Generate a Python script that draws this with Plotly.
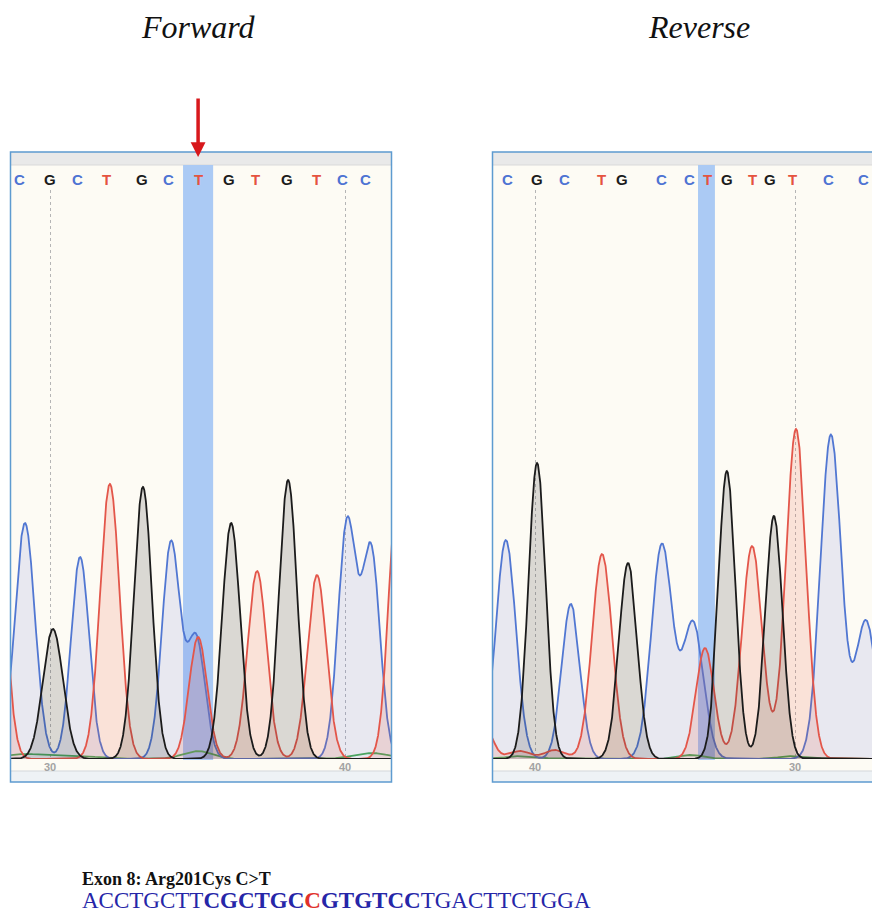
import numpy as np
import plotly.graph_objects as go

W, H = 872, 913

# ---------------- data ----------------
# base calls (position in base-number units)
fwd_bases = ["C", "G", "C", "T", "G", "C", "T", "G", "T", "G", "T", "C", "C"]
fwd_base_pos = [28.95, 30.0, 30.92, 31.90, 33.12, 34.0, 35.02, 36.07, 36.95, 38.03, 39.02, 39.93, 40.71]
rev_bases = ["C", "G", "C", "T", "G", "C", "C", "T", "G", "T", "G", "T", "C", "C"]
rev_base_pos = [41.04, 39.92, 38.85, 37.46, 36.65, 35.12, 34.04, 33.38, 32.62, 31.65, 30.96, 30.08, 28.73, 27.38]

# peaks: (centre position, height, width) per dye channel
fwd_blue = [(29.15, 236, 0.34), (31.02, 202, 0.305), (34.10, 216, 0.305), (34.95, 121, 0.305),
            (40.07, 236, 0.305), (40.88, 209, 0.305)]
fwd_red = [(28.24, 200, 0.305), (32.03, 275, 0.33), (35.02, 122, 0.305), (37.02, 188, 0.32),
           (39.05, 184, 0.32), (41.80, 280, 0.305)]
fwd_black = [(30.10, 130, 0.34), (33.15, 272, 0.305), (36.14, 236, 0.305), (38.07, 279, 0.305)]
fwd_green = [(29.2, 5, 0.8), (31.0, 3, 0.6), (35.0, 8, 0.5), (40.9, 6, 0.6)]

rev_blue = [(41.12, 219, 0.385), (38.62, 155, 0.35), (35.12, 214, 0.40), (33.92, 136, 0.40),
            (28.62, 324, 0.40), (27.27, 138, 0.40)]
rev_red = [(42.04, 40, 0.35), (40.58, 8, 0.4), (39.23, 9, 0.4), (37.42, 205, 0.385),
           (33.46, 111, 0.35), (31.65, 213, 0.385), (29.96, 330, 0.385)]
rev_black = [(39.92, 296, 0.33), (36.42, 196, 0.35), (32.62, 288, 0.33), (30.81, 243, 0.33)]
rev_green = [(40.5, 3, 0.6), (34.0, 4, 0.5), (30.0, 3, 0.6)]

tick_vals = [30, 40]
tick_text = ["30", "40"]
fwd_highlight = (34.51, 35.53)
rev_highlight = (33.08, 33.73)

title_left = "Forward"
title_right = "Reverse"
caption_1 = "Exon 8: Arg201Cys C&gt;T"
seq_pre, seq_bold1, seq_mut, seq_bold2, seq_post = "ACCTGCTT", "CGCTGC", "C", "GTGTCC", "TGACTTCTGGA"

# ---------------- styles ----------------
LINE = {"blue": "#5177d2", "red": "#e3564a", "black": "#1b1b1b", "green": "#49ad4f"}
FILL = {"blue": "rgba(90,110,215,0.13)", "red": "rgba(235,85,60,0.15)",
        "black": "rgba(50,50,50,0.17)", "green": "rgba(0,0,0,0)"}
LETTER = {"C": "#4e73d3", "G": "#1b1b1b", "T": "#e5533f"}
CREAM = "#fdfbf4"
HILITE = "#abcaf4"
FRAME = "#5e9bd0"


def px(xp):
    return xp / W


def py(yp):
    return 1 - yp / H


def curve(x, peaks):
    y = np.zeros_like(x)
    for c, h, w in peaks:
        y += h * np.exp(-0.5 * ((x - c) / w) ** 2)
    return y


# axis ranges (left: base 30 at px 50, 40 at px 345; right reversed: 40 at px 535, 30 at px 795)
left_range = [30 + (11 - 50) / 29.5, 30 + (391 - 50) / 29.5]
right_range = [40 - (493 - 535) / 26.0, 40 - (872 - 535) / 26.0]

fig = go.Figure()

xl = np.arange(left_range[0] - 0.5, left_range[1] + 0.5, 0.005)
xr = np.arange(right_range[1] - 0.5, right_range[0] + 0.5, 0.005)

for name, peaks in [("green", fwd_green), ("blue", fwd_blue), ("red", fwd_red), ("black", fwd_black)]:
    fig.add_trace(go.Scatter(x=xl, y=curve(xl, peaks), mode="lines", xaxis="x", yaxis="y",
                             line=dict(color=LINE[name], width=1.8), fill="tozeroy",
                             fillcolor=FILL[name], hoverinfo="skip"))
for name, peaks in [("green", rev_green), ("blue", rev_blue), ("red", rev_red), ("black", rev_black)]:
    fig.add_trace(go.Scatter(x=xr, y=curve(xr, peaks), mode="lines", xaxis="x2", yaxis="y2",
                             line=dict(color=LINE[name], width=1.8), fill="tozeroy",
                             fillcolor=FILL[name], hoverinfo="skip"))

shapes = []
# panel backgrounds and strips
for x0, x1 in [(10.5, 391.5), (492.5, 900)]:
    shapes.append(dict(type="rect", xref="paper", yref="paper", x0=px(x0), x1=px(x1), y0=py(782), y1=py(152),
                       fillcolor=CREAM, line=dict(width=0), layer="below"))
    shapes.append(dict(type="rect", xref="paper", yref="paper", x0=px(x0), x1=px(x1), y0=py(165), y1=py(152),
                       fillcolor="#e9e9e9", line=dict(width=0), layer="below"))
    shapes.append(dict(type="line", xref="paper", yref="paper", x0=px(x0), x1=px(x1), y0=py(165), y1=py(165),
                       line=dict(color="#d9d9d9", width=1), layer="below"))
    shapes.append(dict(type="rect", xref="paper", yref="paper", x0=px(x0), x1=px(x1), y0=py(782), y1=py(771),
                       fillcolor="#eef2f5", line=dict(width=0), layer="below"))
    shapes.append(dict(type="line", xref="paper", yref="paper", x0=px(x0), x1=px(x1), y0=py(771), y1=py(771),
                       line=dict(color="#d3d7dc", width=1), layer="below"))
# highlighted base columns
shapes.append(dict(type="rect", xref="x", yref="paper", x0=fwd_highlight[0], x1=fwd_highlight[1],
                   y0=py(760), y1=py(165), fillcolor=HILITE, line=dict(width=0), layer="below"))
shapes.append(dict(type="rect", xref="x2", yref="paper", x0=rev_highlight[0], x1=rev_highlight[1],
                   y0=py(760), y1=py(165), fillcolor=HILITE, line=dict(width=0), layer="below"))
# frames
shapes.append(dict(type="rect", xref="paper", yref="paper", x0=px(10.5), x1=px(391.5), y0=py(782), y1=py(152),
                   line=dict(color=FRAME, width=1.5), fillcolor="rgba(0,0,0,0)", layer="above"))
shapes.append(dict(type="rect", xref="paper", yref="paper", x0=px(492.5), x1=px(900), y0=py(782), y1=py(152),
                   line=dict(color=FRAME, width=1.5), fillcolor="rgba(0,0,0,0)", layer="above"))

annotations = []
for b, p in zip(fwd_bases, fwd_base_pos):
    annotations.append(dict(x=p, xref="x", y=py(179), yref="paper", text="<b>%s</b>" % b, showarrow=False,
                            font=dict(family="Liberation Sans", size=15, color=LETTER[b]),
                            xanchor="center", yanchor="middle"))
for b, p in zip(rev_bases, rev_base_pos):
    annotations.append(dict(x=p, xref="x2", y=py(179), yref="paper", text="<b>%s</b>" % b, showarrow=False,
                            font=dict(family="Liberation Sans", size=15, color=LETTER[b]),
                            xanchor="center", yanchor="middle"))

annotations.append(dict(x=px(198), y=py(27), xref="paper", yref="paper", text=title_left, showarrow=False,
                        font=dict(family="Liberation Serif", size=32, color="#111111", style="italic"),
                        xanchor="center", yanchor="middle"))
annotations.append(dict(x=px(699), y=py(27), xref="paper", yref="paper", text=title_right, showarrow=False,
                        font=dict(family="Liberation Serif", size=32, color="#111111", style="italic"),
                        xanchor="center", yanchor="middle"))
# red arrow marking the variant
annotations.append(dict(x=fwd_base_pos[6], xref="x", y=py(157), yref="paper", ax=0, ay=-60, text="",
                        showarrow=True, arrowhead=2, arrowsize=0.85, arrowwidth=3.5, arrowcolor="#d8181c"))
# captions
annotations.append(dict(x=px(80), y=py(879), xref="paper", yref="paper", text="<b>%s</b>" % caption_1,
                        showarrow=False, xanchor="left", yanchor="middle",
                        font=dict(family="Liberation Serif", size=18, color="#111111")))
seq_html = (seq_pre + "<b>" + seq_bold1 + "<span style='color:#e0302a'>" + seq_mut + "</span>" +
            seq_bold2 + "</b>" + seq_post)
annotations.append(dict(x=px(80), y=py(900), xref="paper", yref="paper", text=seq_html,
                        showarrow=False, xanchor="left", yanchor="middle",
                        font=dict(family="Liberation Serif", size=23, color="#2626a8")))

axis_x_common = dict(tickvals=tick_vals, ticktext=["<b>%s</b>" % t for t in tick_text], showgrid=True,
                     gridcolor="#b5b5b5", griddash="dot", gridwidth=1, zeroline=False, showline=False,
                     ticks="", tickfont=dict(family="Liberation Sans", size=11, color="#a3a3a3"),
                     fixedrange=True)
y_dom = [py(759), py(190)]

fig.update_layout(
    width=W, height=H, margin=dict(l=0, r=0, t=0, b=0),
    paper_bgcolor="white", plot_bgcolor="rgba(0,0,0,0)", showlegend=False,
    xaxis=dict(domain=[px(11), px(391)], range=left_range, anchor="y", **axis_x_common),
    yaxis=dict(domain=y_dom, range=[0, 569], visible=False, anchor="x", fixedrange=True),
    xaxis2=dict(domain=[px(493), 1.0], range=right_range, anchor="y2", **axis_x_common),
    yaxis2=dict(domain=y_dom, range=[0, 569], visible=False, anchor="x2", fixedrange=True),
    shapes=shapes, annotations=annotations,
)

fig.write_html("out.html", config={"displayModeBar": False},
               post_script="document.body.style.margin='0px';document.body.style.overflow='hidden';")
